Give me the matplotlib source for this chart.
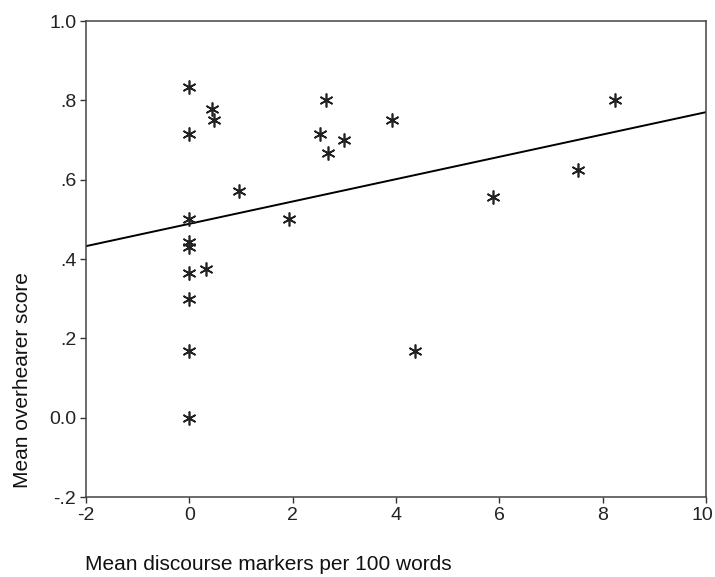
import numpy as np
import matplotlib
matplotlib.use("Agg")
import matplotlib.pyplot as plt
import matplotlib.transforms as mtransforms

# Values
markers_per_100 = [0, 0, 0.44, 0.47, 0.96, 0, 0, 0, 0, 0.32, 0, 0, 0,
                   1.92, 2.64, 2.53, 2.69, 3.0, 3.92, 5.87, 7.53, 8.24, 4.37]
overhearer_score = [0.833, 0.714, 0.778, 0.75, 0.571, 0.5, 0.444, 0.429, 0.364, 0.375, 0.3, 0.167, 0.0,
                    0.5, 0.8, 0.714, 0.667, 0.7, 0.75, 0.556, 0.625, 0.8, 0.167]

x_ticks = [-2, 0, 2, 4, 6, 8, 10]
y_ticks = [-0.2, 0.0, 0.2, 0.4, 0.6, 0.8, 1.0]
y_tick_labels = ['-.2', '0.0', '.2', '.4', '.6', '.8', '1.0']

plt.rcParams['font.family'] = ['Liberation Sans', 'DejaVu Sans']

fig = plt.figure(figsize=(7.15, 5.77), dpi=100)
ax = fig.add_axes([86 / 715, 80 / 577, 620 / 715, 476 / 577])

# Linear fit line across the whole x range
slope, intercept = np.polyfit(markers_per_100, overhearer_score, 1)
x_line = np.array([x_ticks[0], x_ticks[-1]])
ax.plot(x_line, intercept + slope * x_line, color='black', lw=1.4)

ax.plot(markers_per_100, overhearer_score, linestyle='none', marker=(6, 2, 0),
        markersize=10, markeredgewidth=1.2, color='#222222')

ax.set_xlim(x_ticks[0], x_ticks[-1])
ax.set_ylim(y_ticks[0], y_ticks[-1])
ax.set_xticks(x_ticks)
ax.set_xticklabels([str(t) for t in x_ticks])
ax.set_yticks(y_ticks)
ax.set_yticklabels(y_tick_labels)
ax.tick_params(direction='out', length=4, width=1, colors='#333333', labelsize=14,
               labelcolor='#222222', pad=3)
for side in ax.spines.values():
    side.set_color('#444444')
    side.set_linewidth(1.1)

# keep the last x tick label inside the canvas
last = ax.get_xticklabels()[-1]
last.set_transform(last.get_transform() + mtransforms.ScaledTranslation(-4 / 100, 0, fig.dpi_scale_trans))

fig.text(85 / 715, 1 - 565 / 577, 'Mean discourse markers per 100 words',
         ha='left', va='center', fontsize=15, color='#111111')
fig.text(23 / 715, 1 - 380 / 577, 'Mean overhearer score', rotation=90,
         ha='center', va='center', fontsize=15, color='#111111')

fig.savefig('out.png', dpi=100, facecolor='white')
